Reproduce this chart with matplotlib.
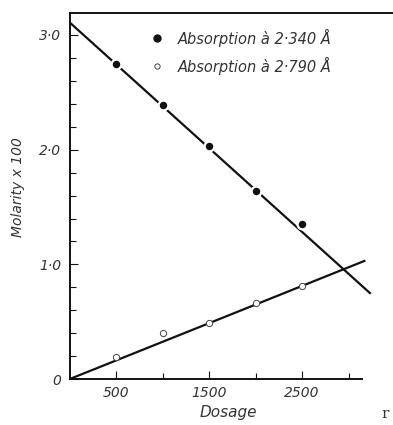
import matplotlib.pyplot as plt
from matplotlib.ticker import MultipleLocator, FixedLocator

plt.rcParams['font.family'] = ['DejaVu Sans']

# dose (r) and molarity x 100
dose = [500, 1000, 1500, 2000, 2500]
abs_2340 = [2.75, 2.39, 2.03, 1.64, 1.35]
abs_2790 = [0.19, 0.40, 0.49, 0.66, 0.81]

# fitted straight lines (end points)
fit_2340_x = [0, 3230]
fit_2340_y = [3.11, 0.75]
fit_2790_x = [0, 3170]
fit_2790_y = [0.0, 1.03]

x_major = [500, 1500, 2500]
x_minor = [1000, 2000, 3000]
y_ticks = [0, 1.0, 2.0, 3.0]
y_labels = ['0', '1·0', '2·0', '3·0']

ink = '#111111'
txt = '#333333'

fig = plt.figure(figsize=(3.93, 4.25), dpi=100)
ax = fig.add_axes([0.177, 0.108, 0.823, 0.861])

ax.plot(fit_2340_x, fit_2340_y, color=ink, lw=1.6, zorder=2)
ax.plot(fit_2790_x, fit_2790_y, color=ink, lw=1.6, zorder=2)
# white edges break the line around each filled point
ax.plot(dose, abs_2340, 'o', ms=7, mfc=ink, mec='white', mew=1.6, zorder=3)
ax.plot(dose, abs_2790, 'o', ms=4.5, mfc='white', mec='#444444', mew=0.7, zorder=3)

ax.set_xlim(0, 3478)
ax.set_ylim(0, 3.19)

ax.spines['right'].set_visible(False)
ax.spines['bottom'].set_bounds(0, 3150)
for s in ['left', 'bottom', 'top']:
    ax.spines[s].set_linewidth(1.4)
    ax.spines[s].set_color(ink)

ax.xaxis.set_major_locator(FixedLocator(x_major))
ax.xaxis.set_minor_locator(FixedLocator(x_minor))
ax.set_xticklabels([str(v) for v in x_major])
ax.set_yticks(y_ticks)
ax.set_yticklabels(y_labels)
ax.yaxis.set_minor_locator(MultipleLocator(0.2))
ax.tick_params(which='both', direction='in', color=ink, width=0.8,
               top=False, right=False)
ax.tick_params(which='major', length=6, labelsize=10, labelcolor=txt)
ax.tick_params(which='minor', length=4)
ax.tick_params(axis='y', pad=6)
ax.tick_params(axis='x', pad=5)
for lab in ax.get_xticklabels() + ax.get_yticklabels():
    lab.set_fontstyle('italic')

# legend drawn by hand
ax.plot([940], [2.97], 'o', ms=5, color=ink, clip_on=False)
ax.plot([940], [2.73], 'o', ms=3.8, mfc='white', mec='#444444', mew=0.7, clip_on=False)
ax.text(1160, 2.97, 'Absorption à 2·340 Å', fontsize=10.5, style='italic',
        color=txt, va='center')
ax.text(1160, 2.73, 'Absorption à 2·790 Å', fontsize=10.5, style='italic',
        color=txt, va='center')

fig.text(0.045, 0.56, 'Molarity x 100', rotation=90, fontsize=10,
         style='italic', color=txt, ha='center', va='center')
fig.text(0.58, 0.03, 'Dosage', fontsize=11, style='italic', color=txt,
         ha='center', va='center')
fig.text(0.98, 0.025, 'r', fontsize=11, family='DejaVu Serif', color=txt,
         ha='center', va='center')

fig.savefig('out.png', dpi=100)
